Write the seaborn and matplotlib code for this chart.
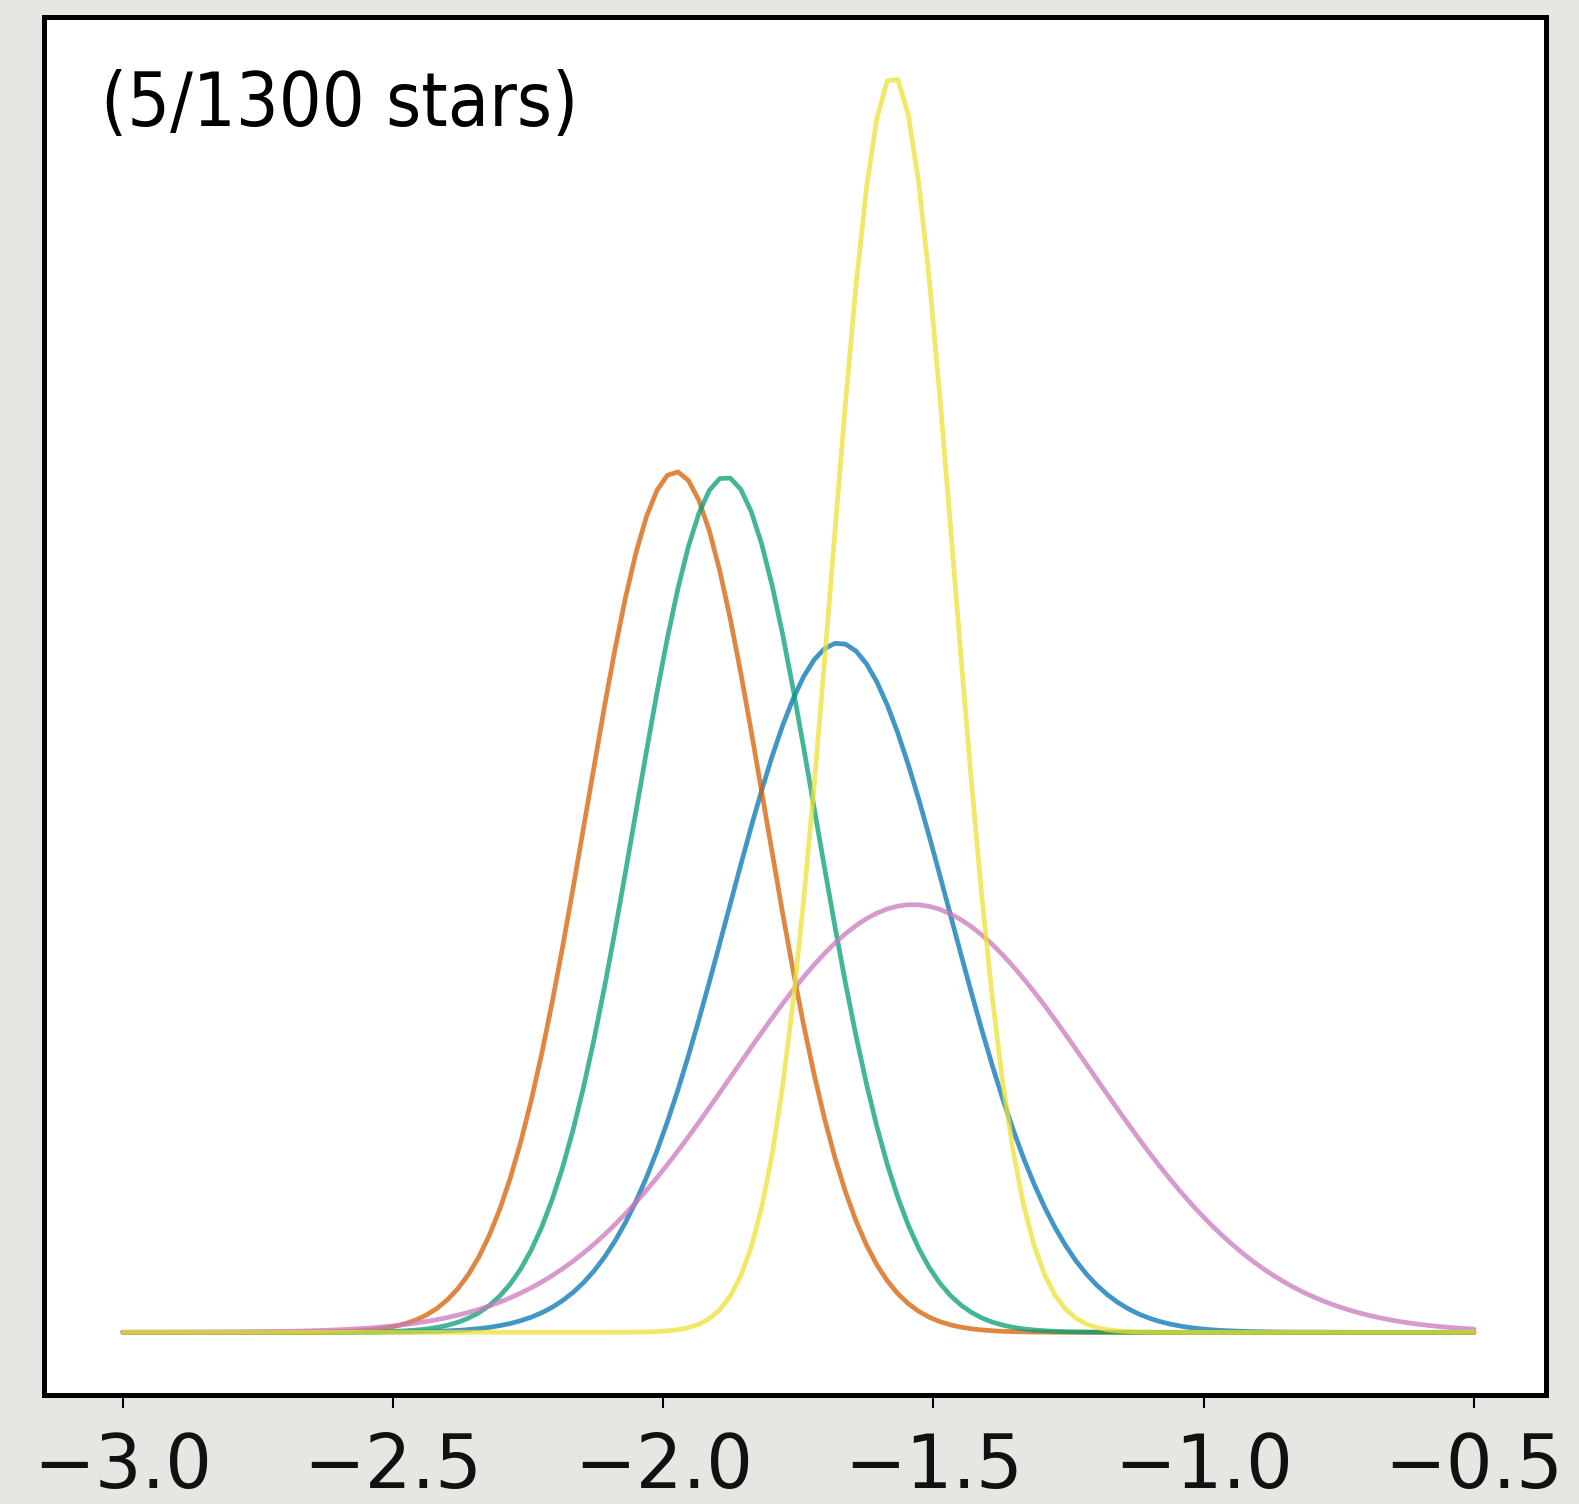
import numpy as np
import pandas as pd
import matplotlib
matplotlib.use("Agg")
import matplotlib.pyplot as plt
import seaborn as sns

# Gaussian metallicity posteriors for five stars
stars = ["star 1", "star 2", "star 3", "star 4", "star 5"]
means = [-1.675, -1.977, -1.885, -1.538, -1.575]
sigmas = [0.206, 0.165, 0.166, 0.332, 0.113]
colors = ["#0173b2", "#d55e00", "#029e73", "#cc78bc", "#ece133"]
label_text = "(5/1300 stars)"
xticks = [-3.0, -2.5, -2.0, -1.5, -1.0, -0.5]

grid = np.linspace(-3.0, -0.5, 130)
frames = []
for name, mu, sd in zip(stars, means, sigmas):
    dens = np.exp(-0.5 * ((grid - mu) / sd) ** 2) / (sd * np.sqrt(2 * np.pi))
    frames.append(pd.DataFrame({"feh": grid, "density": dens, "star": name}))
df = pd.concat(frames, ignore_index=True)

sns.set_theme(style="ticks")
plt.rcParams["font.family"] = ["DejaVu Sans"]

fig = plt.figure(figsize=(15.79, 15.04), dpi=100, facecolor="#e6e7e2")
ax = fig.add_axes([0.0281, 0.0725, 0.9509, 0.9162])
ax.set_facecolor("white")

sns.lineplot(data=df, x="feh", y="density", hue="star", hue_order=stars,
             palette=colors, linewidth=3.4, alpha=0.75, legend=False,
             sort=False, ax=ax)

ax.set_xlim(-3.145, -0.367)
ax.margins(y=0.05)
ax.set_xticks(xticks)
ax.set_xticklabels([f"{t:.1f}".replace("-", "\u2212") for t in xticks])
ax.set_yticks([])
ax.set_xlabel("")
ax.set_ylabel("")
for side in ["left", "right", "top", "bottom"]:
    ax.spines[side].set_visible(True)
    ax.spines[side].set_color("black")
    ax.spines[side].set_linewidth(3.6)
ax.tick_params(axis="x", direction="out", length=9, width=1.5, color="black",
               labelsize=53, pad=17, labelcolor="#111111")

ax.text(0.038, 0.962, label_text, transform=ax.transAxes, ha="left", va="top",
        fontsize=54, fontstretch="condensed", color="black")

fig.savefig("out.png", dpi=100, facecolor=fig.get_facecolor())
